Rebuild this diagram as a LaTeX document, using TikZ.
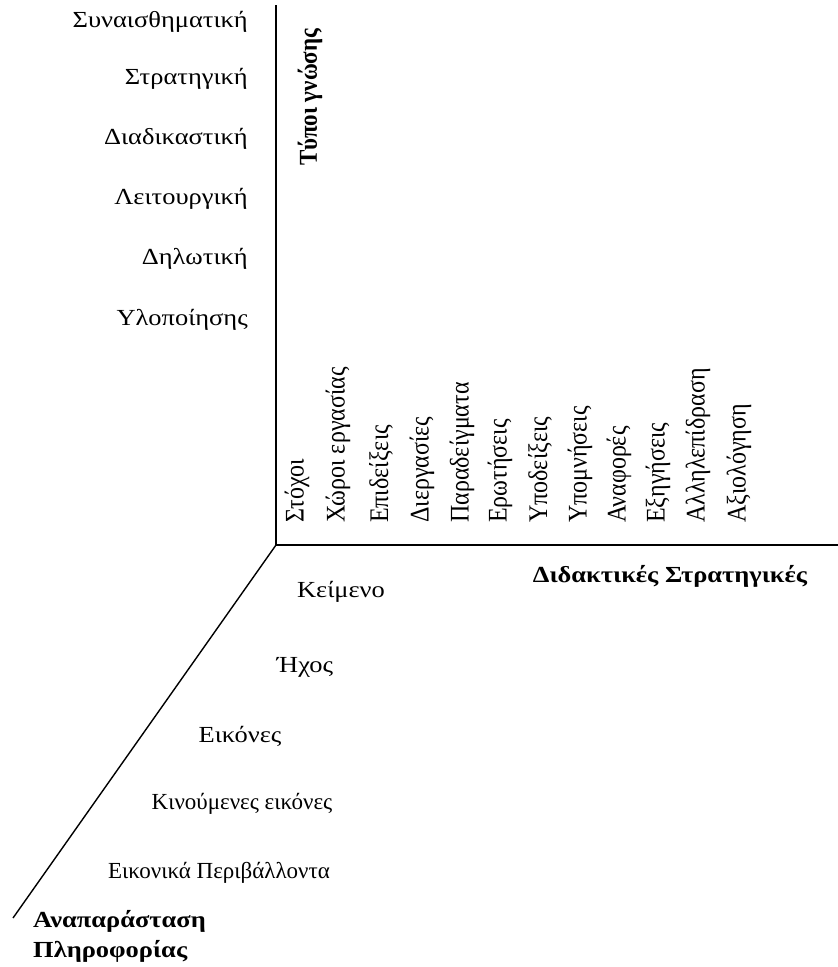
\documentclass[tikz,border=0pt]{standalone}
\usepackage{graphicx}
\usepackage{fontspec}
\setmainfont{Liberation Serif}
\newcommand{\hstr}[1]{\scalebox{1.15}[1]{#1}}
\newcommand{\vstr}[1]{\scalebox{1}[1.12]{#1}}
\begin{document}
\begin{tikzpicture}[x=1pt,y=-1pt,
  lbl/.style={inner sep=0pt, font=\fontsize{23}{27}\selectfont},
  lblr/.style={lbl, anchor=east},
  rot/.style={inner sep=0pt, font=\fontsize{24}{28}\selectfont, rotate=90, anchor=west},
  ttl/.style={inner sep=0pt, font=\fontsize{23}{27}\selectfont\bfseries},
  axis/.style={line width=1.4pt}]
\useasboundingbox (0,0) rectangle (838,967);
\coordinate (O) at (276,545);
\coordinate (T) at (276,5);
\coordinate (R) at (838,545);
\coordinate (D) at (13,918);
\draw[axis] (T) -- (O) -- (R);
\draw[axis] (O) -- (D);
% left labels
\node[lblr] (k1) at (248,22) {\hstr{Συναισθηματική}};
\node[lblr] (k2) at (248,79) {\hstr{Στρατηγική}};
\node[lblr] (k3) at (248,139) {\hstr{Διαδικαστική}};
\node[lblr] (k4) at (248,199) {\hstr{Λειτουργική}};
\node[lblr] (k5) at (248,259) {\hstr{Δηλωτική}};
\node[lblr] (k6) at (248,320) {\hstr{Υλοποίησης}};
\node[ttl, rotate=90] (tg) at (310,97) {\vstr{Τύποι γνώσης}};
% rotated labels
\node[rot] (s1) at (297,523) {\vstr{Στόχοι}};
\node[rot] (s2) at (338,523) {\vstr{Χώροι εργασίας}};
\node[rot] (s3) at (381,523) {\vstr{Επιδείξεις}};
\node[rot] (s4) at (422,523) {\vstr{Διεργασίες}};
\node[rot] (s5) at (462,523) {\vstr{Παραδείγματα}};
\node[rot] (s6) at (500,523) {\vstr{Ερωτήσεις}};
\node[rot] (s7) at (540,523) {\vstr{Υποδείξεις}};
\node[rot] (s8) at (580,523) {\vstr{Υπομνήσεις}};
\node[rot] (s9) at (619,523) {\vstr{Αναφορές}};
\node[rot] (s10) at (658,523) {\vstr{Εξηγήσεις}};
\node[rot] (s11) at (698,523) {\vstr{Αλληλεπίδραση}};
\node[rot] (s12) at (739,523) {\vstr{Αξιολόγηση}};
\node[ttl] (ds) at (670,576) {\hstr{Διδακτικές Στρατηγικές}};
% bottom labels
\node[lbl] (b1) at (341,592) {\hstr{Κείμενο}};
\node[lbl] (b2) at (305,667) {\hstr{Ήχος}};
\node[lbl] (b3) at (240,736) {\hstr{Εικόνες}};
\node[lbl] (b4) at (242,804) {Κινούμενες εικόνες};
\node[lbl] (b5) at (219,873) {Εικονικά Περιβάλλοντα};
\node[ttl, anchor=base west] (ap1) at (33,927) {\hstr{Αναπαράσταση}};
\node[ttl, anchor=base west] (ap2) at (33,957) {\hstr{Πληροφορίας}};
\end{tikzpicture}
\end{document}
